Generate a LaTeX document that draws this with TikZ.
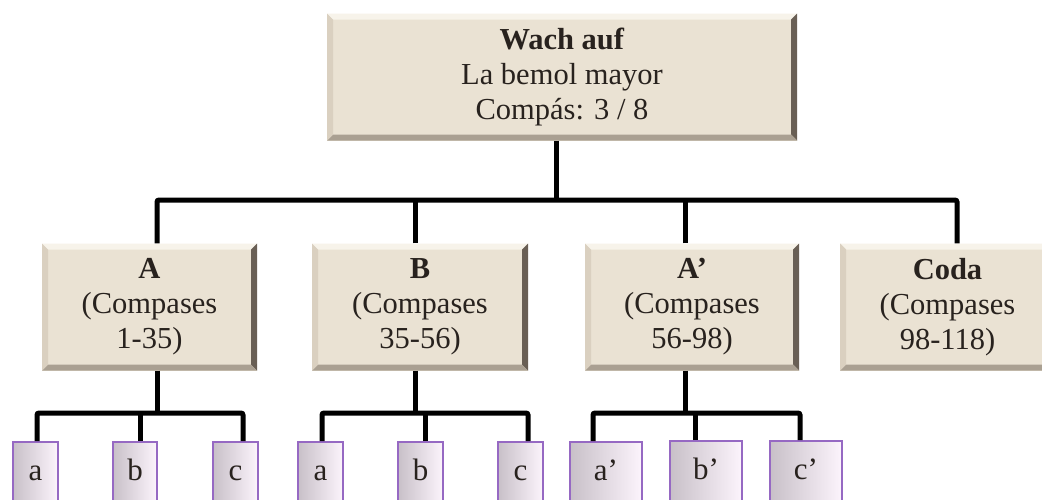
\documentclass[tikz,border=0pt]{standalone}
\usepackage{fontspec}
\setmainfont{Liberation Serif}
\definecolor{beige}{RGB}{234,226,211}
\definecolor{bevtop}{RGB}{247,243,234}
\definecolor{bevright}{RGB}{105,95,85}
\definecolor{bevbot}{RGB}{170,160,146}
\definecolor{bevleft}{RGB}{218,208,192}
\definecolor{txt}{RGB}{40,34,30}
\definecolor{leafborder}{RGB}{150,105,195}
\definecolor{leafl}{RGB}{200,192,200}
\definecolor{leafr}{RGB}{252,244,252}
\tikzset{
  secbox/.style={fill=beige, inner sep=0pt, align=center, text=txt,
    font=\fontsize{30.5}{35}\selectfont,
    path picture={
      \path (path picture bounding box.north west) coordinate (nw)
            (path picture bounding box.south east) coordinate (se);
      \fill[bevtop] (nw) -- (se |- nw) -- ([shift={(-6,6)}]se |- nw) -- ([shift={(6,6)}]nw) -- cycle;
      \fill[bevright] (se |- nw) -- (se) -- ([shift={(-6,-6)}]se) -- ([shift={(-6,6)}]se |- nw) -- cycle;
      \fill[bevbot] (se) -- (nw |- se) -- ([shift={(6,-6)}]nw |- se) -- ([shift={(-6,-6)}]se) -- cycle;
      \fill[bevleft] (nw |- se) -- (nw) -- ([shift={(6,6)}]nw) -- ([shift={(6,-6)}]nw |- se) -- cycle;
    }},
  leaf/.style={draw=leafborder, line width=2pt, left color=leafl, right color=leafr,
    minimum height=62pt, inner sep=0pt, text height=22pt, text depth=7pt,
    text=txt, font=\fontsize{31}{35}\selectfont},
  conn/.style={line width=5pt, rounded corners=2pt}
}
\begin{document}
\begin{tikzpicture}[x=1pt,y=-1pt]
\clip (0,0) rectangle (1042,499);
\fill[white] (0,0) rectangle (1042,499);
% top
\node[secbox, minimum width=470pt, minimum height=127pt] (top) at (562,77)
  {\textbf{Wach auf}\\La bemol mayor\\Compás: 3 / 8};
% level 2
\node[secbox, minimum width=215pt, minimum height=127pt] (A) at (149.5,307)
  {\textbf{A}\\(Compases\\1-35)};
\node[secbox, minimum width=216pt, minimum height=127pt] (B) at (420,307)
  {\textbf{B}\\(Compases\\35-56)};
\node[secbox, minimum width=214pt, minimum height=127pt] (Ap) at (692,307)
  {\textbf{A’}\\(Compases\\56-98)};
\node[secbox, minimum width=215pt, minimum height=127pt] (Coda) at (947.5,307)
  {\textbf{Coda}\\(Compases\\98-118)};
% leaves
\node[leaf, minimum width=45pt] (a1) at (35.5,473) {a};
\node[leaf, minimum width=44pt] (b1) at (135,473) {b};
\node[leaf, minimum width=45pt] (c1) at (235.5,473) {c};
\node[leaf, minimum width=45pt] (a2) at (320.5,473) {a};
\node[leaf, minimum width=45pt] (b2) at (420.5,473) {b};
\node[leaf, minimum width=45pt] (c2) at (520.5,473) {c};
\node[leaf, minimum width=72pt] (a3) at (606,473) {a’};
\node[leaf, minimum width=72pt] (b3) at (706,472) {b’};
\node[leaf, minimum width=72pt] (c3) at (806,472) {c’};
% buses
\coordinate (bus0) at (0,200);
\coordinate (bus1) at (0,413);
% top level connectors
\draw[conn] ([xshift=-6]top.south) -- ([xshift=-6]top.south |- bus0);
\draw[conn] ([xshift=7.5]A.north) |- ([xshift=9.5]Coda.north |- bus0) -- ([xshift=9.5]Coda.north);
\draw[conn] ([xshift=-5]B.north) -- ([xshift=-5]B.north |- bus0);
\draw[conn] ([xshift=-7]Ap.north) -- ([xshift=-7]Ap.north |- bus0);
% group A
\draw[conn] ([xshift=7.5]A.south) -- ([xshift=7.5]A.south |- bus1);
\draw[conn] ([xshift=1.5]a1.north) |- ([xshift=7.5]c1.north |- bus1) -- ([xshift=7.5]c1.north);
\draw[conn] ([xshift=5]b1.north) -- ([xshift=5]b1.north |- bus1);
% group B
\draw[conn] ([xshift=-5]B.south) -- ([xshift=-5]B.south |- bus1);
\draw[conn] ([xshift=1.5]a2.north) |- ([xshift=7.5]c2.north |- bus1) -- ([xshift=7.5]c2.north);
\draw[conn] ([xshift=4.5]b2.north) -- ([xshift=4.5]b2.north |- bus1);
% group A'
\draw[conn] ([xshift=-7]Ap.south) -- ([xshift=-7]Ap.south |- bus1);
\draw[conn] ([xshift=-13]a3.north) |- ([xshift=-6]c3.north |- bus1) -- ([xshift=-6]c3.north);
\draw[conn] ([xshift=-11]b3.north) -- ([xshift=-11]b3.north |- bus1);
\end{tikzpicture}
\end{document}
